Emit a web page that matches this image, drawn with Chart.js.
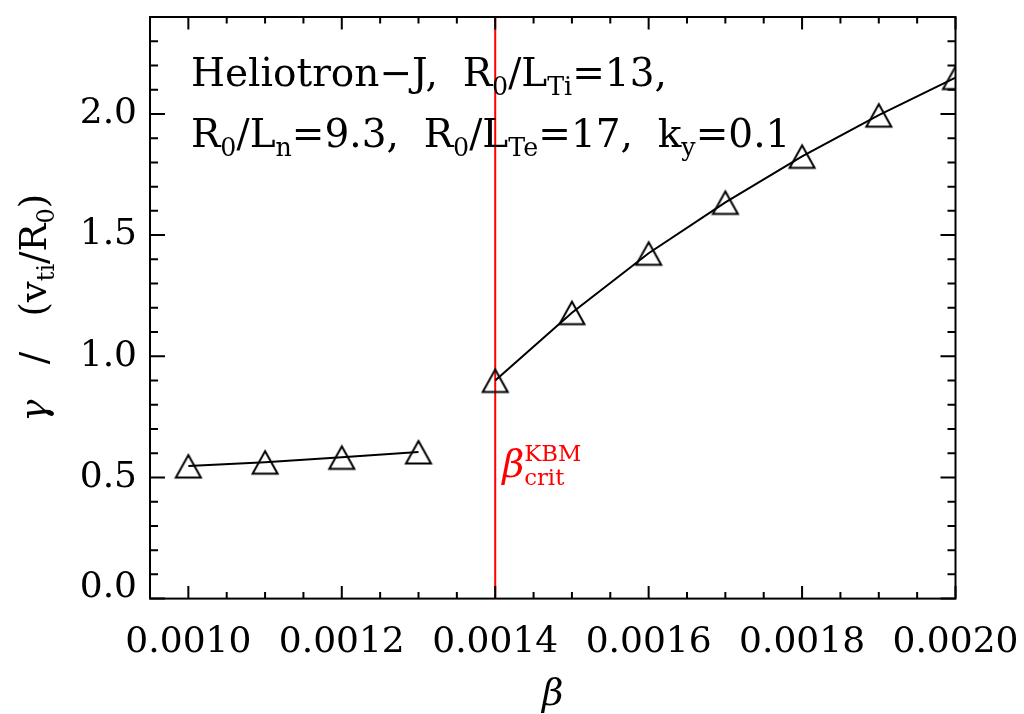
<!DOCTYPE html>
<html>
<head>
<meta charset="utf-8">
<script src="https://cdn.jsdelivr.net/npm/chart.js@4"></script>
<style>
  html, body { margin: 0; padding: 0; background: #fff; }
  canvas { display: block; }
</style>
</head>
<body>
<canvas id="chart" width="1024" height="714"></canvas>
<script>
// beta scan, below and above the KBM threshold
const lowBeta = [0.0010, 0.0011, 0.0012, 0.0013];
const lowGamma = [0.547, 0.563, 0.583, 0.605];
const highBeta = [0.0014, 0.0015, 0.0016, 0.0017, 0.0018, 0.0019, 0.0020];
const highGamma = [0.900, 1.180, 1.425, 1.635, 1.825, 1.995, 2.150];
const betaCrit = 0.0014;

const xTicks = [0.0010, 0.0012, 0.0014, 0.0016, 0.0018, 0.0020];
const yTicks = [0.0, 0.5, 1.0, 1.5, 2.0];

const FONT = '"DejaVu Serif", serif';

// open triangle marker, centred on its box like the IDL symbol
function makeTriangle() {
    const c = document.createElement('canvas');
    c.width = 30; c.height = 30;
    const g = c.getContext('2d');
    g.strokeStyle = '#000';
    g.lineWidth = 2;
    g.beginPath();
    g.moveTo(15, 4);
    g.lineTo(27.5, 26.5);
    g.lineTo(2.5, 26.5);
    g.closePath();
    g.stroke();
    return c;
}
const tri = makeTriangle();

function toXY(xs, ys) {
    return xs.map((x, i) => ({ x: x, y: ys[i] }));
}

// draws text pieces; piece = [text, 'sub' | 'sup' | 'it' | 'stack', extra]
function drawRich(ctx, x, y, parts, size) {
    let cx = x;
    parts.forEach(p => {
        const kind = p[1];
        if (kind === 'stack') {
            const s = size * 0.6;
            ctx.font = s + 'px ' + FONT;
            ctx.fillText(p[0], cx, y - size * 0.42);
            ctx.fillText(p[2], cx, y + size * 0.22);
            cx += Math.max(ctx.measureText(p[0]).width, ctx.measureText(p[2]).width);
            return;
        }
        const small = kind === 'sub' || kind === 'sup';
        const s = small ? size * 0.65 : size;
        ctx.font = (kind === 'it' ? 'italic ' : '') + s + 'px ' + FONT;
        const dy = kind === 'sub' ? size * 0.22 : kind === 'sup' ? -size * 0.42 : 0;
        ctx.fillText(p[0], cx, y + dy);
        cx += ctx.measureText(p[0]).width;
    });
    return cx - x;
}

function richWidth(ctx, parts, size) {
    ctx.save();
    ctx.globalAlpha = 0;
    const w = drawRich(ctx, 0, 0, parts, size);
    ctx.restore();
    return w;
}

function noPad(s) {
    s.paddingLeft = 0; s.paddingRight = 0;
    s.paddingTop = 0; s.paddingBottom = 0;
}

const frameAndText = {
    id: 'frameAndText',
    afterDraw(chart) {
        const ctx = chart.ctx;
        const xs = chart.scales.x, ys = chart.scales.y;
        const a = chart.chartArea;
        ctx.save();
        ctx.strokeStyle = '#000';
        ctx.lineWidth = 2;
        ctx.strokeRect(a.left, a.top, a.right - a.left, a.bottom - a.top);

        ctx.beginPath();
        // x ticks, bottom and top, pointing inward
        for (let i = 0; i <= 21; i++) {
            const v = xs.min + i * 0.00005;
            const px = xs.getPixelForValue(v);
            const major = (i + 3) % 4 === 0;
            const len = major ? 12.5 : 6.5;
            ctx.moveTo(px, a.bottom); ctx.lineTo(px, a.bottom - len);
            ctx.moveTo(px, a.top); ctx.lineTo(px, a.top + len);
        }
        // y ticks, left and right
        for (let i = 0; i <= 24; i++) {
            const py = ys.getPixelForValue(i * 0.1);
            const len = (i % 5 === 0) ? 15 : 8;
            ctx.moveTo(a.left, py); ctx.lineTo(a.left + len, py);
            ctx.moveTo(a.right, py); ctx.lineTo(a.right - len, py);
        }
        ctx.stroke();

        // parameter annotation
        ctx.fillStyle = '#000';
        ctx.textBaseline = 'alphabetic';
        ctx.textAlign = 'left';
        const size = 39;
        drawRich(ctx, 191, 86, [
            ['Heliotron\u2212J,  R'], ['0', 'sub'], ['/L'], ['Ti', 'sub'], ['=13,']
        ], size);
        drawRich(ctx, 191, 147, [
            ['R'], ['0', 'sub'], ['/L'], ['n', 'sub'], ['=9.3,  R'], ['0', 'sub'],
            ['/L'], ['Te', 'sub'], ['=17,  k'], ['y', 'sub'], ['=0.1']
        ], size);

        // threshold label
        ctx.fillStyle = '#ff0000';
        const bx = xs.getPixelForValue(betaCrit) + 7;
        drawRich(ctx, bx, 477, [['\u03b2', 'it'], ['KBM', 'stack', 'crit']], 38);

        // y axis title, rotated
        ctx.fillStyle = '#000';
        const yParts = [['\u03b3', 'it'], ['   /   (v'], ['ti', 'sub'], ['/R'], ['0', 'sub'], [')']];
        const ySize = 37;
        const w = richWidth(ctx, yParts, ySize);
        ctx.translate(46, (a.top + a.bottom) / 2);
        ctx.rotate(-Math.PI / 2);
        drawRich(ctx, -w / 2, 0, yParts, ySize);
        ctx.restore();
    }
};

new Chart(document.getElementById('chart'), {
    type: 'scatter',
    data: {
        datasets: [
            {
                data: toXY(lowBeta, lowGamma),
                showLine: true,
                borderColor: '#000',
                borderWidth: 2,
                pointStyle: tri,
                pointRadius: 15,
                pointHoverRadius: 15
            },
            {
                data: toXY(highBeta, highGamma),
                showLine: true,
                borderColor: '#000',
                borderWidth: 2,
                pointStyle: tri,
                pointRadius: 15,
                pointHoverRadius: 15
            },
            {
                data: [{ x: betaCrit, y: 0 }, { x: betaCrit, y: 2.4 }],
                showLine: true,
                borderColor: '#ff0000',
                borderWidth: 2,
                pointRadius: 0
            }
        ]
    },
    options: {
        responsive: false,
        animation: false,
        devicePixelRatio: 1,
        layout: { padding: { top: 11, right: 68.5, left: 0, bottom: 0 } },
        plugins: {
            legend: { display: false },
            tooltip: { enabled: false }
        },
        scales: {
            x: {
                type: 'linear',
                min: 0.00095,
                max: 0.0020,
                afterBuildTicks: s => { s.ticks = xTicks.map(v => ({ value: v })); },
                afterFit: s => { s.height = 115.4; noPad(s); },
                grid: { display: false, drawTicks: false },
                border: { display: false },
                ticks: {
                    padding: 22,
                    color: '#000',
                    maxRotation: 0,
                    font: { family: FONT, size: 36 },
                    callback: v => v.toFixed(4)
                },
                title: {
                    display: true,
                    text: '\u03b2',
                    color: '#000',
                    padding: { top: 0, bottom: -4 },
                    font: { family: FONT, size: 37, style: 'italic' }
                }
            },
            y: {
                min: 0,
                max: 2.4,
                afterBuildTicks: s => { s.ticks = yTicks.map(v => ({ value: v })); },
                afterFit: s => { s.width = 150; noPad(s); },
                grid: { display: false, drawTicks: false },
                border: { display: false },
                ticks: {
                    padding: 13,
                    color: '#000',
                    font: ctx => ({
                        family: FONT,
                        size: 36,
                        lineHeight: (ctx.tick && ctx.tick.value === 0) ? '22px' : 1.2
                    }),
                    // bottom label sits a little above the axis, as in the original
                    callback: v => v === 0 ? ['0.0', ''] : v.toFixed(1)
                }
            }
        }
    },
    plugins: [frameAndText]
});
</script>
</body>
</html>
